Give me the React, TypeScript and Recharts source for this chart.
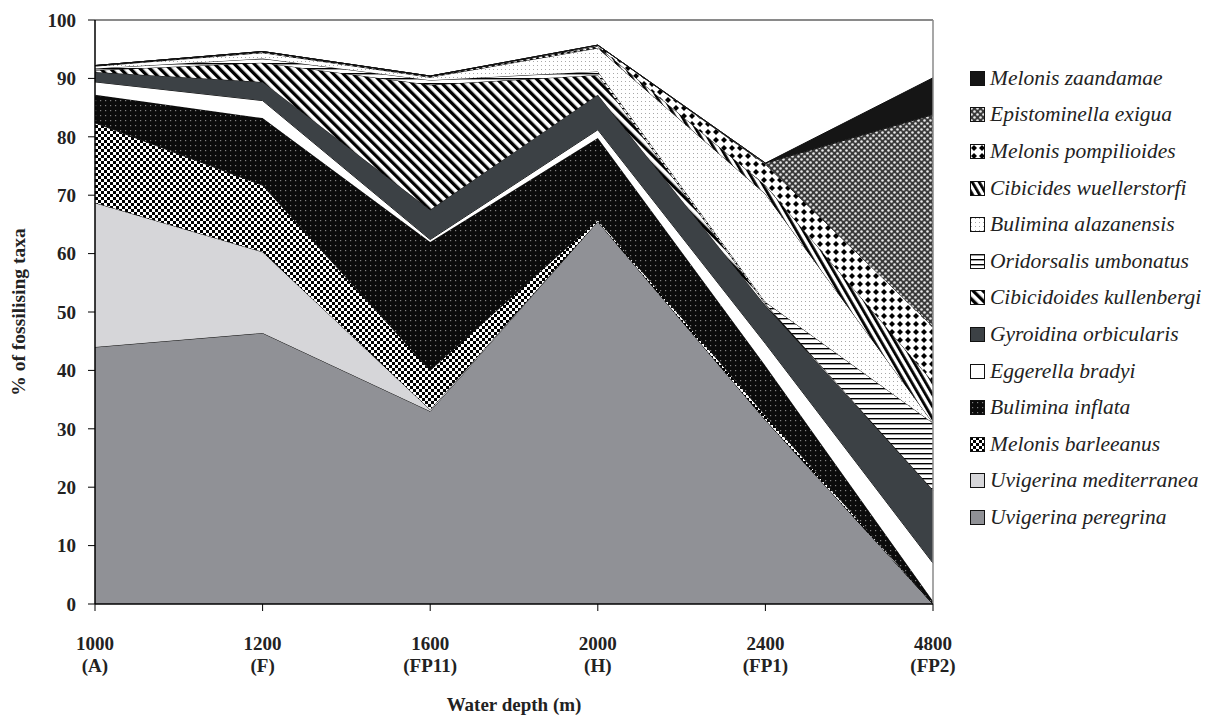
import React from 'react';
import { AreaChart, Area, XAxis, YAxis, ReferenceLine, Label } from 'recharts';

// Categories (water depth) and site codes
const depths = ['1000', '1200', '1600', '2000', '2400', '4800'];
const sites = ['(A)', '(F)', '(FP11)', '(H)', '(FP1)', '(FP2)'];
const yTicks = [0, 10, 20, 30, 40, 50, 60, 70, 80, 90, 100];

// Series values (% of fossilising taxa), stacked bottom -> top
const uvigerinaPeregrina = [44.0, 46.4, 33.0, 65.5, 31.5, 0];
const uvigerinaMediterranea = [24.7, 13.9, 0.3, 0, 0, 0];
const melonisBarleeanus = [13.7, 11.4, 6.7, 0.3, 0.8, 0];
const buliminaInflata = [4.8, 11.5, 22.0, 14.0, 8.5, 0.5];
const eggerellaBradyi = [2.2, 3.0, 0.4, 1.4, 3.8, 6.5];
const gyroidinaOrbicularis = [1.7, 3.2, 5.1, 6.0, 6.5, 12.5];
const cibicidoidesKullenbergi = [0.3, 3.3, 21.4, 3.4, 0.3, 0];
const oridorsalisUmbonatus = [0.3, 0.7, 0.8, 0.6, 0.3, 11.5];
const buliminaAlazanensis = [0.4, 1.0, 0.5, 4.0, 18.5, 0];
const cibicidesWuellerstorfi = [0.1, 0.2, 0.2, 0.3, 1.5, 7.0];
const melonisPompilioides = [0, 0, 0, 0.2, 3.6, 9.5];
const epistominellaExigua = [0, 0, 0, 0, 0.2, 36.3];
const melonisZaandamae = [0, 0, 0, 0, 0, 6.3];

const seriesNames = [
  'Uvigerina peregrina',
  'Uvigerina mediterranea',
  'Melonis barleeanus',
  'Bulimina inflata',
  'Eggerella bradyi',
  'Gyroidina orbicularis',
  'Cibicidoides kullenbergi',
  'Oridorsalis umbonatus',
  'Bulimina alazanensis',
  'Cibicides wuellerstorfi',
  'Melonis pompilioides',
  'Epistominella exigua',
  'Melonis zaandamae',
];
const seriesValues = [
  uvigerinaPeregrina,
  uvigerinaMediterranea,
  melonisBarleeanus,
  buliminaInflata,
  eggerellaBradyi,
  gyroidinaOrbicularis,
  cibicidoidesKullenbergi,
  oridorsalisUmbonatus,
  buliminaAlazanensis,
  cibicidesWuellerstorfi,
  melonisPompilioides,
  epistominellaExigua,
  melonisZaandamae,
];

// Styles (fills), same order as series
const seriesFills = [
  '#909196',
  '#d6d6d9',
  'url(#pBar)',
  'url(#pInf)',
  '#ffffff',
  '#3c4145',
  'url(#pKul)',
  'url(#pOri)',
  'url(#pAla)',
  'url(#pWue)',
  'url(#pPom)',
  'url(#pExi)',
  '#151515',
];

const data = depths.map((d, i) => {
  const row: Record<string, string | number> = { depth: d, site: sites[i] };
  seriesValues.forEach((vals, k) => {
    row['s' + k] = vals[i];
  });
  return row;
});

const FONT = "'Liberation Serif', 'Times New Roman', serif";

const XTick = (props: any) => {
  const { x, y, payload } = props;
  const idx = depths.indexOf(String(payload.value));
  return (
    <text x={x} y={y} textAnchor="middle" fontFamily={FONT} fontWeight="bold" fontSize={19} fill="#222">
      <tspan x={x} dy={37}>{payload.value}</tspan>
      <tspan x={x} dy={22}>{sites[idx]}</tspan>
    </text>
  );
};

const Patterns = () => (
  <defs>
    <pattern id="pBar" width="6" height="6" patternUnits="userSpaceOnUse">
      <rect width="6" height="6" fill="#fff" />
      <rect width="3" height="3" fill="#000" />
      <rect x="3" y="3" width="3" height="3" fill="#000" />
    </pattern>
    <pattern id="pInf" width="5" height="5" patternUnits="userSpaceOnUse">
      <rect width="5" height="5" fill="#0b0b0b" />
      <rect x="2" y="2" width="1.2" height="1.2" fill="#808080" />
    </pattern>
    <pattern id="pKul" width="7" height="7" patternUnits="userSpaceOnUse" patternTransform="rotate(-45)">
      <rect width="7" height="7" fill="#fff" />
      <rect width="3.3" height="7" fill="#000" />
    </pattern>
    <pattern id="pOri" width="6" height="5" patternUnits="userSpaceOnUse">
      <rect width="6" height="5" fill="#fff" />
      <rect y="0" width="6" height="1.4" fill="#000" />
    </pattern>
    <pattern id="pAla" width="4" height="4" patternUnits="userSpaceOnUse">
      <rect width="4" height="4" fill="#fff" />
      <rect x="1" y="1" width="1" height="1" fill="#a8a8a8" />
    </pattern>
    <pattern id="pWue" width="6" height="6" patternUnits="userSpaceOnUse" patternTransform="rotate(-30)">
      <rect width="6" height="6" fill="#fff" />
      <rect width="2.8" height="6" fill="#000" />
    </pattern>
    <pattern id="pPom" width="8" height="8" patternUnits="userSpaceOnUse">
      <rect width="8" height="8" fill="#fff" />
      <polygon points="4,1 7,4 4,7 1,4" fill="#000" />
    </pattern>
    <pattern id="pExi" width="6" height="6" patternUnits="userSpaceOnUse">
      <rect width="6" height="6" fill="#3a3a3a" />
      <circle cx="1.5" cy="1.5" r="1.3" fill="#e8e8e8" />
      <circle cx="4.5" cy="4.5" r="1.3" fill="#e8e8e8" />
    </pattern>
  </defs>
);

export default function App() {
  const legendOrder = seriesNames.map((n, i) => i).reverse();
  return (
    <div style={{ position: 'relative', width: 1210, height: 712, background: '#fff' }}>
      <AreaChart
        width={1210}
        height={712}
        data={data}
        margin={{ top: 12, right: 285, left: 0, bottom: 0 }}
      >
        <Patterns />
        <XAxis
          dataKey="depth"
          interval={0}
          height={116}
          tickSize={7}
          tick={<XTick />}
          axisLine={{ stroke: '#000', strokeWidth: 1.5 }}
          tickLine={{ stroke: '#000' }}
        >
          <Label
            content={(p: any) => {
              const vb = p.viewBox || {};
              const cx = vb.x + vb.width / 2;
              return (
                <text x={cx} y={703} textAnchor="middle" fontFamily={FONT} fontWeight="bold" fontSize={19} fill="#222">
                  Water depth (m)
                </text>
              );
            }}
          />
        </XAxis>
        <YAxis
          type="number"
          domain={[0, 100]}
          ticks={yTicks}
          interval={0}
          width={87}
          tickSize={7}
          tickMargin={12}
          tick={{ fontFamily: FONT, fontWeight: 'bold', fontSize: 19, fill: '#222' }}
          axisLine={{ stroke: '#000', strokeWidth: 1.5 }}
          tickLine={{ stroke: '#000' }}
        >
          <Label
            content={(p: any) => {
              const vb = p.viewBox || {};
              const cy = vb.y + vb.height / 2;
              return (
                <text
                  x={10}
                  y={cy}
                  transform={`rotate(-90, 10, ${cy})`}
                  textAnchor="middle"
                  dominantBaseline="central"
                  fontFamily={FONT}
                  fontWeight="bold"
                  fontSize={19.5}
                  fill="#222"
                >
                  % of fossilising taxa
                </text>
              );
            }}
          />
        </YAxis>
        {seriesNames.map((name, k) => (
          <Area
            key={name}
            name={name}
            type="linear"
            dataKey={'s' + k}
            stackId="a"
            stroke="#111"
            strokeWidth={1}
            fill={seriesFills[k]}
            fillOpacity={1}
            isAnimationActive={false}
            dot={false}
            activeDot={false}
          />
        ))}
        <ReferenceLine y={100} stroke="#8a8a8a" strokeWidth={2} />
        <ReferenceLine x="4800" stroke="#8a8a8a" strokeWidth={1.5} />
      </AreaChart>
      <div
        style={{
          position: 'absolute',
          left: 962,
          top: 52,
          fontFamily: FONT,
          fontStyle: 'italic',
          fontSize: 21.5,
          color: '#222',
        }}
      >
        {legendOrder.map((k) => (
          <div key={k} style={{ height: 36.6, display: 'flex', alignItems: 'center', whiteSpace: 'nowrap' }}>
            <svg width={15} height={15} style={{ marginRight: 5, flex: 'none' }}>
              <rect x={0.5} y={0.5} width={14} height={14} fill={seriesFills[k]} stroke="#111" strokeWidth={1} />
            </svg>
            <span>{seriesNames[k]}</span>
          </div>
        ))}
      </div>
    </div>
  );
}
